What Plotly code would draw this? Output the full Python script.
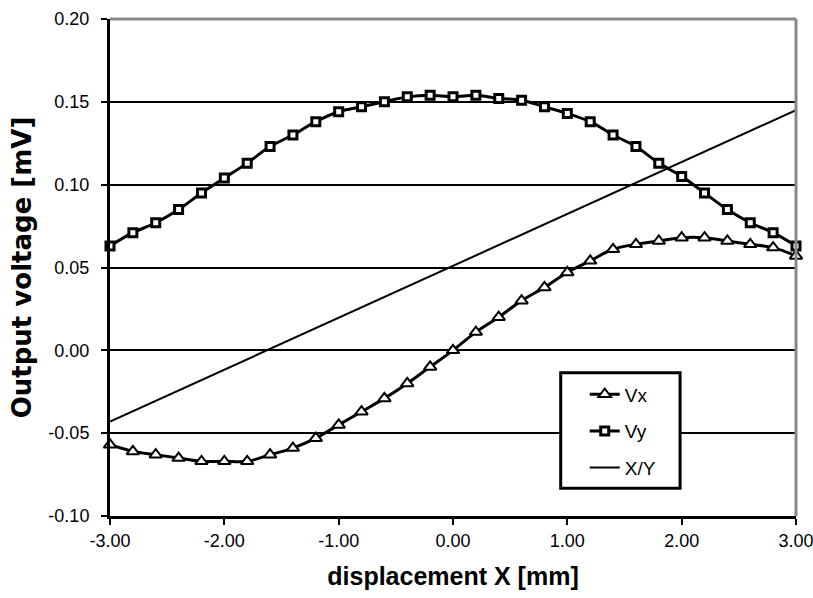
import plotly.graph_objects as go

# ---- data ----
displacement = [-3.0, -2.8, -2.6, -2.4, -2.2, -2.0, -1.8, -1.6, -1.4, -1.2, -1.0,
                -0.8, -0.6, -0.4, -0.2, 0.0, 0.2, 0.4, 0.6, 0.8, 1.0,
                1.2, 1.4, 1.6, 1.8, 2.0, 2.2, 2.4, 2.6, 2.8, 3.0]

vx = [-0.057, -0.061, -0.063, -0.065, -0.067, -0.067, -0.067, -0.063, -0.059, -0.053, -0.045,
      -0.037, -0.029, -0.020, -0.010, 0.000, 0.011, 0.020, 0.030, 0.038, 0.047,
      0.054, 0.061, 0.064, 0.066, 0.068, 0.068, 0.066, 0.064, 0.062, 0.057]

vy = [0.063, 0.071, 0.077, 0.085, 0.095, 0.104, 0.113, 0.123, 0.130, 0.138, 0.144,
      0.147, 0.150, 0.153, 0.154, 0.153, 0.154, 0.152, 0.151, 0.147, 0.143,
      0.138, 0.130, 0.123, 0.113, 0.105, 0.095, 0.085, 0.077, 0.071, 0.063]

xy_x = [-3.0, 3.0]
xy_y = [-0.043, 0.145]

x_tickvals = [-3, -2, -1, 0, 1, 2, 3]
x_ticktext = ["-3.00", "-2.00", "-1.00", "0.00", "1.00", "2.00", "3.00"]
y_tickvals = [-0.10, -0.05, 0.00, 0.05, 0.10, 0.15, 0.20]
y_ticktext = ["-0.10", "-0.05", "0.00", "0.05", "0.10", "0.15", "0.20"]

FONT = "Liberation Sans, Arial, sans-serif"

fig = go.Figure()

fig.add_trace(go.Scatter(
    x=displacement, y=vx, name="Vx", mode="lines+markers", legendgroup="a",
    line=dict(color="black", width=3, shape="spline", smoothing=1.0),
    marker=dict(symbol="triangle-up", size=11, color="white",
                line=dict(color="black", width=2)),
    cliponaxis=False,
))
fig.add_trace(go.Scatter(
    x=displacement, y=vy, name="Vy", mode="lines+markers", legendgroup="b",
    line=dict(color="black", width=3, shape="spline", smoothing=1.0),
    marker=dict(symbol="square", size=8, color="white",
                line=dict(color="black", width=3)),
    cliponaxis=False,
))
fig.add_trace(go.Scatter(
    x=xy_x, y=xy_y, name="X/Y", mode="lines", legendgroup="c",
    line=dict(color="black", width=2),
    cliponaxis=False,
))

fig.update_layout(
    width=813, height=598,
    margin=dict(l=110, r=17, t=19, b=82, autoexpand=False),
    paper_bgcolor="white", plot_bgcolor="white",
    font=dict(family=FONT, size=18, color="black"),
    showlegend=True,
    legend=dict(
        x=0.692, y=0.283, xanchor="left", yanchor="top",
        bgcolor="rgba(0,0,0,0)", borderwidth=0,
        font=dict(family=FONT, size=19, color="black"),
        tracegroupgap=9,
    ),
    xaxis=dict(
        range=[-3, 3], tickvals=x_tickvals, ticktext=x_ticktext,
        showgrid=False, zeroline=False, automargin=False,
        showline=True, linecolor="black", linewidth=3,
        ticks="outside", ticklen=6, tickwidth=2, tickcolor="black",
        tickfont=dict(family=FONT, size=18),
        ticklabeloverflow="allow",
        title=dict(text="<b>displacement X [mm]</b>", standoff=18,
                   font=dict(family="Liberation Sans, Arial, sans-serif", size=25)),
    ),
    yaxis=dict(
        range=[-0.10, 0.20], tickvals=y_tickvals, ticktext=y_ticktext,
        showgrid=True, gridcolor="black", gridwidth=2, zeroline=False, automargin=False,
        showline=True, linecolor="black", linewidth=3,
        ticks="outside", ticklen=6, tickwidth=2, tickcolor="black",
        tickfont=dict(family=FONT, size=18),
        ticklabelstandoff=8,
        title=dict(text="<b>Output voltage [mV]</b>", standoff=10,
                   font=dict(family="DejaVu Sans, sans-serif", size=26)),
    ),
    shapes=[
        dict(type="line", xref="paper", yref="paper", x0=0, x1=1, y0=1, y1=1,
             line=dict(color="#888888", width=3), layer="above"),
        dict(type="line", xref="paper", yref="paper", x0=1, x1=1, y0=0, y1=1,
             line=dict(color="#888888", width=3), layer="above"),
        dict(type="rect", xref="paper", yref="paper", x0=0.657, x1=0.831, y0=0.056, y1=0.288,
             line=dict(color="black", width=3), fillcolor="white", layer="above"),
    ],
)

fig.write_html("out.html", config={"displayModeBar": False},
               post_script="document.body.style.margin='0';")
